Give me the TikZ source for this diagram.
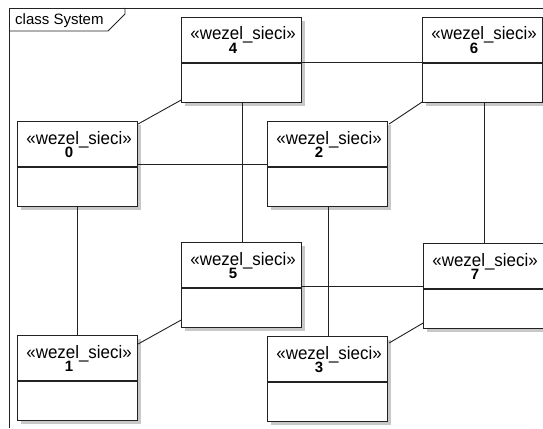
\documentclass[tikz,border=0pt]{standalone}
\usepackage{fontspec}
\setmainfont{Liberation Sans}
\usetikzlibrary{shadows}
\definecolor{ink}{HTML}{222222}
\definecolor{shade}{HTML}{C8C8C8}
\begin{document}
\begin{tikzpicture}[x=1pt,y=-1pt,
  classbox/.style={draw=ink, line width=1.1pt, rectangle, fill=white,
    minimum width=120pt, minimum height=85pt, inner sep=0pt,
    drop shadow={shadow xshift=3.5pt, shadow yshift=-3.5pt, fill=shade, opacity=1}},
  stereo/.style={anchor=base, inner sep=0pt, font=\fontsize{18}{21}\selectfont},
  ident/.style={anchor=base, inner sep=0pt, font=\fontsize{15}{18}\selectfont\bfseries},
  link/.style={draw=ink, line width=0.9pt},
  frameline/.style={draw=ink, line width=0.9pt}]
\useasboundingbox[fill=white] (0,0) rectangle (543,428);

% diagram frame with its name tab
\coordinate (fTL) at (9,8);
\coordinate (fTR) at (543,8);
\coordinate (fBL) at (9,428);
\coordinate (tabA) at (125,8);
\coordinate (tabB) at (125,14);
\coordinate (tabC) at (108,31);
\coordinate (tabD) at (9,31);
\draw[frameline] (fBL) -- (fTL) -- (fTR);
\draw[frameline] (tabA) -- (tabB) -- (tabC) -- (tabD);
\node[anchor=base west, inner sep=0pt, font=\fontsize{15}{18}\selectfont] (ftitle) at (15,25) {class System};

% network nodes: name / top-left corner
\foreach \n/\px/\py in {4/181/17, 6/422/17, 0/17/121, 2/267/121,
                        5/181/242, 7/423/243, 1/17/335, 3/267/336} {
  \node[classbox, anchor=north west] (n\n) at (\px,\py) {};
  \draw[ink, line width=1.1pt] ([yshift=-46pt]n\n.north west) -- ([yshift=-46pt]n\n.north east);
  \node[stereo] (s\n) at ([xshift=1.5pt, yshift=-23pt]n\n.north) {\scalebox{0.94}[1]{«wezel\_sieci»}};
  \node[ident] (d\n) at ([xshift=-8.5pt, yshift=-36pt]n\n.north) {\n};
}

% connections
\draw[link] ([yshift=-2.5pt]n4.east) -- ([yshift=-2.5pt]n6.west);
\draw[link] (n0.east) -- (n2.west);
\draw[link] ([yshift=-1pt]n5.east) -- ([yshift=-1pt]n5.east -| n7.west);
\draw[link] ([xshift=1pt]n4.south) -- ([xshift=1pt]n4.south |- n5.north);
\draw[link] ([xshift=1.5pt]n6.south) -- ([xshift=1.5pt]n6.south |- n7.north);
\draw[link] (n0.south) -- (n1.north);
\draw[link] ([xshift=1pt]n2.south) -- ([xshift=1pt]n2.south |- n3.north);
\draw[link] ([yshift=3pt]n4.south west) -- ([yshift=-3pt]n0.north east);
\draw[link] ([yshift=1pt]n6.south west) -- ([xshift=1pt,yshift=-3pt]n2.north east);
\draw[link] ([yshift=8pt]n5.south west) -- ([yshift=-9pt]n1.north east);
\draw[link] ([yshift=6pt]n7.south west) -- ([xshift=1pt,yshift=-7pt]n3.north east);
\end{tikzpicture}
\end{document}
